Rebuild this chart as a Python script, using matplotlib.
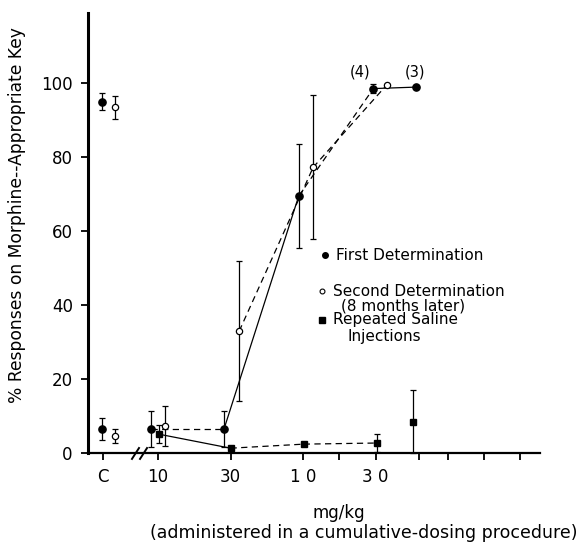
import matplotlib
matplotlib.use('Agg')
import matplotlib.pyplot as plt

plt.rcParams['font.family'] = ['DejaVu Sans']

# dose axis positions (1 = 10, 2 = 30, 3 = 100, 4 = 300 mg/kg, cumulative)
tick_pos = [0.24, 1, 2, 3, 4]
tick_labels = ['C', '10', '30', '1 0', '3 0']
minor_pos = [3.5, 4.6, 5.0, 5.5, 6.0]

# control (C) values
first_c = [6.5, 95.0]
first_c_err = [3.0, 2.3]
second_c = [4.6, 93.5]
second_c_err = [2.0, 3.0]

# first determination
first_x = [0.90, 1.91, 2.94, 3.97, 4.56]
first_y = [6.5, 6.5, 69.5, 98.6, 99.0]
first_err = [5.0, 4.8, 14.0, 1.2, 0.0]
first_styles = ['dashed', 'solid', 'dashed', 'solid']

# second determination (8 months later)
second_x = [1.10, 2.12, 3.14, 4.16]
second_y = [7.3, 33.0, 77.3, 99.7]
second_err = [5.5, 19.0, 19.5, 0.0]
second_styles = [None, 'dashed', 'dashed']

# repeated saline injections
saline_x = [1.01, 2.0, 3.01, 4.02, 4.52]
saline_y = [5.1, 1.3, 2.4, 2.7, 8.5]
saline_err = [2.5, 0.0, 0.0, 2.5, 8.5]
saline_styles = ['solid', 'dashed', 'dashed', None]

dash = (0, (5, 3.5))


def connect(ax, xs, ys, styles):
    for i, st in enumerate(styles):
        if st is None:
            continue
        ls = '-' if st == 'solid' else dash
        ax.plot(xs[i:i + 2], ys[i:i + 2], color='black', lw=0.9, ls=ls, zorder=2)


fig = plt.figure(figsize=(5.87, 5.45), dpi=100)
ax = fig.add_axes([0.150, 0.1688, 0.770, 0.807])

connect(ax, first_x, first_y, first_styles)
connect(ax, second_x, second_y, second_styles)
connect(ax, saline_x, saline_y, saline_styles)

eb = dict(ecolor='black', elinewidth=0.9, capsize=2.5, capthick=0.9,
          ls='none', clip_on=False, zorder=3)

ax.errorbar([0.22, 0.22], first_c, yerr=first_c_err, fmt='o', ms=5.2,
            mfc='black', mec='black', **eb)
ax.errorbar([0.41, 0.41], second_c, yerr=second_c_err, fmt='o', ms=4.5,
            mfc='white', mec='black', mew=0.9, **eb)
ax.errorbar(first_x, first_y, yerr=first_err, fmt='o', ms=5.2,
            mfc='black', mec='black', **eb)
ax.errorbar(second_x, second_y, yerr=second_err, fmt='o', ms=4.5,
            mfc='white', mec='black', mew=0.9, **eb)
ax.errorbar(saline_x, saline_y, yerr=saline_err, fmt='s', ms=5,
            mfc='black', mec='black', **eb)

# sample size labels
ax.text(3.79, 101, '(4)', ha='center', va='bottom', fontsize=10.5)
ax.text(4.54, 101, '(3)', ha='center', va='bottom', fontsize=10.5)

# legend drawn as text
fs = 11
ax.plot([3.30], [53.5], 'o', color='black', ms=4, clip_on=False)
ax.text(3.46, 53.5, 'First Determination', va='center', fontsize=fs)
ax.plot([3.26], [43.8], 'o', mfc='white', mec='black', mew=0.8, ms=3.5, clip_on=False)
ax.text(3.41, 43.8, 'Second Determination', va='center', fontsize=fs)
ax.text(3.52, 39.8, '(8 months later)', va='center', fontsize=fs)
ax.plot([3.26], [36.0], 's', color='black', ms=3.8, clip_on=False)
ax.text(3.41, 36.0, 'Repeated Saline', va='center', fontsize=fs)
ax.text(3.62, 31.5, 'Injections', va='center', fontsize=fs)

ax.set_xlim(0.034, 6.27)
ax.set_ylim(0, 119)

for side in ['top', 'right']:
    ax.spines[side].set_visible(False)
ax.spines['left'].set_linewidth(2.2)
ax.spines['bottom'].set_linewidth(1.6)

ax.set_yticks([0, 20, 40, 60, 80, 100])
ax.set_xticks(tick_pos)
ax.set_xticklabels(tick_labels)
ax.set_xticks(minor_pos, minor=True)
ax.tick_params(axis='both', direction='out', length=5, width=1.3,
               labelsize=12, pad=6)
ax.tick_params(axis='x', which='minor', direction='out', length=5, width=1.3)

# axis break marks
ax.plot([0.640, 0.737], [-1.6, 1.35], color='black', lw=1.4, clip_on=False)
ax.plot([0.751, 0.848], [-1.6, 1.35], color='black', lw=1.4, clip_on=False)

ax.set_ylabel('% Responses on Morphine--Appropriate Key', fontsize=12.3)
ax.yaxis.set_label_coords(-0.137, 0.54)

fig.text(0.578, 0.058, 'mg/kg', ha='center', va='center', fontsize=12)
fig.text(0.620, 0.022, '(administered in a cumulative-dosing procedure)',
         ha='center', va='center', fontsize=12.5)

fig.savefig('out.png', dpi=100)
